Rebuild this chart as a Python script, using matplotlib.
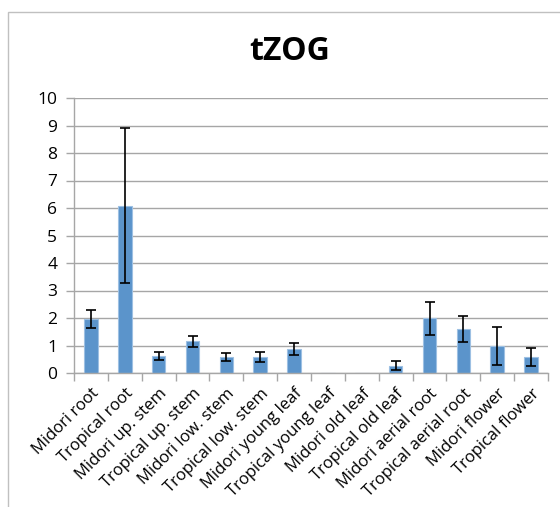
import numpy as np
import matplotlib.pyplot as plt
from matplotlib.patches import Rectangle

# data
categories = ['Midori root', 'Tropical root', 'Midori up. stem', 'Tropical up. stem',
              'Midori low. stem', 'Tropical low. stem', 'Midori young leaf',
              'Tropical young leaf', 'Midori old leaf', 'Tropical old leaf',
              'Midori aerial root', 'Tropical aerial root', 'Midori flower', 'Tropical flower']
values = [1.96, 6.08, 0.63, 1.15, 0.57, 0.58, 0.88, np.nan, np.nan, 0.27, 2.0, 1.6, 0.98, 0.58]
errors = [0.33, 2.82, 0.14, 0.21, 0.14, 0.18, 0.22, np.nan, np.nan, 0.17, 0.6, 0.48, 0.69, 0.33]
y_ticks = list(range(0, 11))

plt.rcParams['font.family'] = ['Open Sans', 'DejaVu Sans']

fig = plt.figure(figsize=(5.6, 5.07), dpi=100)
fig.patches.append(Rectangle((8 / 560, -0.1), 1.2, 1 - 12 / 507 + 0.1,
                             transform=fig.transFigure, fill=False,
                             edgecolor='#c0c0c0', linewidth=1))

ax = fig.add_axes([74 / 560, 1 - 373 / 507, (548 - 74) / 560, (373 - 98) / 507])
x = np.arange(len(categories))
ax.bar(x, np.nan_to_num(values), width=0.4, color='#5B94CB', edgecolor='#9dc0e3',
       linewidth=0.8, zorder=2)
ax.errorbar(x, values, yerr=errors, fmt='none', ecolor='black', elinewidth=1.2,
            capsize=3.5, capthick=1.2, zorder=3)

ax.set_ylim(0, 10)
ax.set_xlim(-0.5, len(categories) - 0.5)
ax.set_yticks(y_ticks)
ax.set_yticklabels([str(t) for t in y_ticks], fontsize=12.5)
ax.yaxis.grid(True, color='#a6a6a6', linewidth=1)
ax.set_axisbelow(True)

ax.set_xticks(x)
ax.set_xticklabels(categories, rotation=45, ha='right', rotation_mode='anchor', fontsize=12)
ax.set_xticks(np.arange(-0.5, len(categories)), minor=True)
ax.tick_params(axis='x', which='major', length=0, pad=9)
ax.tick_params(axis='x', which='minor', length=6, color='#a6a6a6', width=1)
ax.tick_params(axis='y', length=6, color='#a6a6a6', width=1, pad=6)

for side in ['top', 'right']:
    ax.spines[side].set_visible(False)
for side in ['left', 'bottom']:
    ax.spines[side].set_color('#a6a6a6')
    ax.spines[side].set_linewidth(1)

fig.text(0.518, 1 - 52 / 507, 'tZOG', ha='center', va='center', fontsize=23, fontweight='bold')

fig.savefig('out.png', dpi=100)
